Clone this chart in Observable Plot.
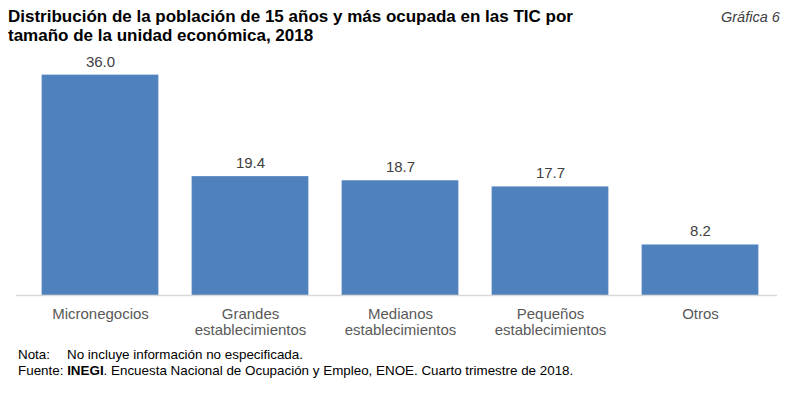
<!DOCTYPE html>
<html><head><meta charset="utf-8">
<script src="https://cdn.jsdelivr.net/npm/d3@7"></script>
<script src="https://cdn.jsdelivr.net/npm/@observablehq/plot@0.6"></script>
<style>
body{margin:0;background:#fff;font-family:"Liberation Sans",Arial,sans-serif;}
#wrap{position:relative;width:793px;height:393px;overflow:hidden;}
#title{position:absolute;left:8px;top:7px;font-weight:bold;font-size:17px;line-height:19px;color:#000;}
#gnum{position:absolute;left:721px;top:9px;font-style:italic;font-size:14.5px;color:#404040;}
#chart{position:absolute;left:0;top:50px;}
#notes{position:absolute;left:18px;top:347px;font-size:13.4px;line-height:16px;color:#000;}
#notes span.l{display:inline-block;width:49px;}
</style></head>
<body><div id="wrap">
<div id="title">Distribución de la población de 15 años y más ocupada en las TIC por<br>tamaño de la unidad económica, 2018</div>
<div id="gnum">Gráfica 6</div>
<div id="chart"></div>
<div id="notes"><div><span class="l">Nota:</span>No incluye información no especificada.</div><div>Fuente: <b>INEGI</b>. Encuesta Nacional de Ocupación y Empleo, ENOE. Cuarto trimestre de 2018.</div></div>
</div>
<script>
const categories = ["Micronegocios", "Grandes\nestablecimientos", "Medianos\nestablecimientos", "Pequeños\nestablecimientos", "Otros"];
const values = [36.0, 19.4, 18.7, 17.7, 8.2];
const data = categories.map((c, i) => ({cat: c, v: values[i]}));

const plot = Plot.plot({
  width: 793,
  height: 290,
  marginLeft: 24,
  marginRight: 18,
  marginTop: 25,
  marginBottom: 45,
  x: {domain: categories, paddingInner: 0.227, paddingOuter: 0.1135, axis: null},
  y: {domain: [0, 36], axis: null},
  style: {fontFamily: "'Liberation Sans', Arial, sans-serif", background: "#fff"},
  marks: [
    Plot.barY(data, {x: "cat", y: "v", fill: "#4f81bd", stroke: "#5a8ac4", strokeWidth: 0.8}),
    Plot.ruleY([0], {stroke: "#d9d9d9", strokeWidth: 1.5, insetLeft: -8, insetRight: -2}),
    Plot.text(data, {x: "cat", y: "v", text: d => d.v.toFixed(1), lineAnchor: "bottom", dy: -9, fontSize: 15, fill: "#404040"}),
    Plot.text(data, {x: "cat", y: 0, text: "cat", lineAnchor: "top", dy: 11, fontSize: 15, lineHeight: 1.13, fill: "#595959"})
  ]
});
document.getElementById("chart").appendChild(plot);
</script>
</body></html>
